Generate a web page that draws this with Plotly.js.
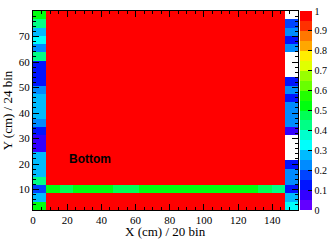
<!DOCTYPE html>
<html><head><meta charset="utf-8">
<script src="https://cdn.plot.ly/plotly-3.0.1.min.js"></script>
<style>html,body{margin:0;padding:0;background:#fff;}#c{width:332px;height:240px;}</style>
</head><body><div id="c"></div>
<script>
// Bin edges (20 x bins, 24 y bins)
const xEdges = [0,7.75,15.5,23.25,31,38.75,46.5,54.25,62,69.75,77.5,85.25,93,100.75,108.5,116.25,124,131.75,139.5,147.25,155];
const yEdges = [2,5.25,8.5,11.75,15,18.25,21.5,24.75,28,31.25,34.5,37.75,41,44.25,47.5,50.75,54,57.25,60.5,63.75,67,70.25,73.5,76.75,80];
// Efficiency values, rows from bottom (y bin 0) to top (y bin 23); null = empty (white)
const z = [
 [0.52,0.99,0.99,0.99,0.99,0.99,0.99,0.99,0.99,0.99,0.99,0.99,0.99,0.99,0.99,0.99,0.99,0.99,0.99,0.32],
 [0.27,0.99,0.99,0.99,0.99,0.99,0.99,0.99,0.99,0.99,0.99,0.99,0.99,0.99,0.99,0.99,0.99,0.99,0.99,0.27],
 [0.17,0.52,0.47,0.52,0.52,0.52,0.47,0.47,0.52,0.52,0.52,0.52,0.52,0.52,0.52,0.52,0.52,0.47,0.42,0.12],
 [0.42,0.99,0.99,0.99,0.99,0.99,0.99,0.99,0.99,0.99,0.99,0.99,0.99,0.99,0.99,0.99,0.99,0.99,0.99,0.22],
 [0.27,0.99,0.99,0.99,0.99,0.99,0.99,0.99,0.99,0.99,0.99,0.99,0.99,0.99,0.99,0.99,0.99,0.99,0.99,0.22],
 [0.27,0.99,0.99,0.99,0.99,0.99,0.99,0.99,0.99,0.99,0.99,0.99,0.99,0.99,0.99,0.99,0.99,0.99,0.99,0.12],
 [0.27,0.99,0.99,0.99,0.99,0.99,0.99,0.99,0.99,0.99,0.99,0.99,0.99,0.99,0.99,0.99,0.99,0.99,0.99,null],
 [0.07,0.99,0.99,0.99,0.99,0.99,0.99,0.99,0.99,0.99,0.99,0.99,0.99,0.99,0.99,0.99,0.99,0.99,0.99,null],
 [0.07,0.99,0.99,0.99,0.99,0.99,0.99,0.99,0.99,0.99,0.99,0.99,0.99,0.99,0.99,0.99,0.99,0.99,0.99,null],
 [0.14,0.99,0.99,0.99,0.99,0.99,0.99,0.99,0.99,0.99,0.99,0.99,0.99,0.99,0.99,0.99,0.99,0.99,0.99,0.07],
 [0.22,0.99,0.99,0.99,0.99,0.99,0.99,0.99,0.99,0.99,0.99,0.99,0.99,0.99,0.99,0.99,0.99,0.99,0.99,0.22],
 [0.27,0.99,0.99,0.99,0.99,0.99,0.99,0.99,0.99,0.99,0.99,0.99,0.99,0.99,0.99,0.99,0.99,0.99,0.99,0.24],
 [0.27,0.99,0.99,0.99,0.99,0.99,0.99,0.99,0.99,0.99,0.99,0.99,0.99,0.99,0.99,0.99,0.99,0.99,0.99,0.24],
 [0.27,0.99,0.99,0.99,0.99,0.99,0.99,0.99,0.99,0.99,0.99,0.99,0.99,0.99,0.99,0.99,0.99,0.99,0.99,0.14],
 [0.22,0.99,0.99,0.99,0.99,0.99,0.99,0.99,0.99,0.99,0.99,0.99,0.99,0.99,0.99,0.99,0.99,0.99,0.99,0.22],
 [0.12,0.99,0.99,0.99,0.99,0.99,0.99,0.99,0.99,0.99,0.99,0.99,0.99,0.99,0.99,0.99,0.99,0.99,0.99,0.12],
 [0.12,0.99,0.99,0.99,0.99,0.99,0.99,0.99,0.99,0.99,0.99,0.99,0.99,0.99,0.99,0.99,0.99,0.99,0.99,null],
 [0.12,0.99,0.99,0.99,0.99,0.99,0.99,0.99,0.99,0.99,0.99,0.99,0.99,0.99,0.99,0.99,0.99,0.99,0.99,null],
 [0.42,0.99,0.99,0.99,0.99,0.99,0.99,0.99,0.99,0.99,0.99,0.99,0.99,0.99,0.99,0.99,0.99,0.99,0.99,null],
 [0.22,0.99,0.99,0.99,0.99,0.99,0.99,0.99,0.99,0.99,0.99,0.99,0.99,0.99,0.99,0.99,0.99,0.99,0.99,0.22],
 [0.32,0.99,0.99,0.99,0.99,0.99,0.99,0.99,0.99,0.99,0.99,0.99,0.99,0.99,0.99,0.99,0.99,0.99,0.99,0.12],
 [0.27,0.99,0.99,0.99,0.99,0.99,0.99,0.99,0.99,0.99,0.99,0.99,0.99,0.99,0.99,0.99,0.99,0.99,0.99,0.22],
 [0.42,0.99,0.99,0.99,0.99,0.99,0.99,0.99,0.99,0.99,0.99,0.99,0.99,0.99,0.99,0.99,0.99,0.99,0.99,0.17],
 [0.52,0.99,0.99,0.99,0.99,0.99,0.99,0.99,0.99,0.99,0.99,0.99,0.99,0.99,0.99,0.99,0.99,0.99,0.99,null]
];
const xTicks = [0,20,40,60,80,100,120,140];
const yTicks = [10,20,30,40,50,60,70];
const zTicks = [0,0.1,0.2,0.3,0.4,0.5,0.6,0.7,0.8,0.9,1];
const zTickText = ['0','0.1','0.2','0.3','0.4','0.5','0.6','0.7','0.8','0.9','1'];
const paletteColors = ['rgb(99,0,255)','rgb(51,0,255)','rgb(0,20,255)','rgb(0,68,255)','rgb(0,139,255)',
 'rgb(0,187,255)','rgb(0,255,252)','rgb(0,255,204)','rgb(0,255,133)','rgb(0,255,85)',
 'rgb(0,255,14)','rgb(34,255,0)','rgb(105,255,0)','rgb(153,255,0)','rgb(224,255,0)',
 'rgb(255,238,0)','rgb(255,167,0)','rgb(255,119,0)','rgb(255,48,0)','rgb(255,0,0)'];
const cs = [];
paletteColors.forEach((c,i)=>{ const n=paletteColors.length; cs.push([i/n,c]); cs.push([(i+1)/n,c]); });

const serif = 'Liberation Serif, Times New Roman, serif';
const trace = {
  type:'heatmap', x:xEdges, y:yEdges, z:z, zmin:0, zmax:1, colorscale:cs,
  hoverongaps:false,
  colorbar:{x:1.008, xanchor:'left', y:0.5, yanchor:'middle', len:1, lenmode:'fraction',
    thickness:12, thicknessmode:'pixels', outlinewidth:0, xpad:0, ypad:0,
    tickmode:'array', tickvals:zTicks, ticktext:zTickText, ticks:'inside', ticklen:4,
    tickcolor:'#000', tickfont:{family:serif, size:10, color:'#000'}}
};
const axisCommon = {showline:true, linecolor:'#000', linewidth:1, mirror:'ticks', ticks:'inside',
  tickcolor:'#000', ticklen:6, showgrid:false, zeroline:false,
  tickfont:{family:serif, size:11, color:'#000'}};
const layout = {
  width:332, height:240, margin:{l:33, r:34, t:11, b:30, autoexpand:false}, paper_bgcolor:'#fff', plot_bgcolor:'#fff',
  showlegend:false,
  xaxis:Object.assign({}, axisCommon, {range:[0,155], tickmode:'array', tickvals:xTicks,
    minor:{dtick:5, tick0:0, ticks:'inside', ticklen:3, tickcolor:'#000', showgrid:false}}),
  yaxis:Object.assign({}, axisCommon, {range:[2,80], tickmode:'array', tickvals:yTicks,
    minor:{dtick:2, tick0:0, ticks:'inside', ticklen:3, tickcolor:'#000', showgrid:false},
    title:{text:'Y (cm) / 24 bin', font:{family:serif, size:13, color:'#000'}, standoff:4}}),
  annotations:[
   {x:20, y:22, xref:'x', yref:'y', text:'<b>Bottom</b>', showarrow:false,
    xanchor:'left', yanchor:'middle', font:{family:'Liberation Sans, Arial, sans-serif', size:12, color:'#000'}},
   {x:0.5, y:-0.1508, xref:'paper', yref:'paper', text:'X (cm) / 20 bin', showarrow:false,
    xanchor:'center', yanchor:'bottom', borderpad:0, font:{family:serif, size:13, color:'#000'}}
  ]
};
Plotly.newPlot('c',[trace],layout,{staticPlot:true, displayModeBar:false});
</script></body></html>
